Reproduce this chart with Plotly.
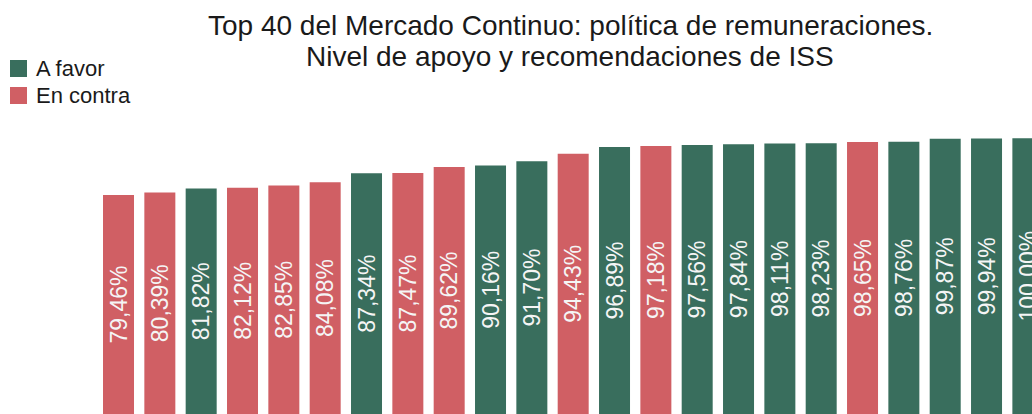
import plotly.graph_objects as go

# Support level for the remuneration policy, ordered from lowest to highest
rank = list(range(1, 24))
support = [79.46, 80.39, 81.82, 82.12, 82.85, 84.08, 87.34, 87.47, 89.62,
           90.16, 91.70, 94.43, 96.89, 97.18, 97.56, 97.84, 98.11, 98.23,
           98.65, 98.76, 99.87, 99.94, 100.00]
# ISS recommendation for each company
iss = ["En contra", "En contra", "A favor", "En contra", "En contra",
       "En contra", "A favor", "En contra", "En contra", "A favor",
       "A favor", "En contra", "A favor", "En contra", "A favor", "A favor",
       "A favor", "A favor", "En contra", "A favor", "A favor", "A favor",
       "A favor"]
groups = ["A favor", "En contra"]
colors = {"A favor": "#396E5D", "En contra": "#D05F64"}
title_lines = ["Top 40 del Mercado Continuo: política de remuneraciones.",
               "Nivel de apoyo y recomendaciones de ISS"]

FONT = "Liberation Sans, Arial, sans-serif"
W, H, TOP = 1032, 414, 97
PLOT_H = H - TOP


def py(pixel_y):
    """Convert a pixel row of the page into paper units of the plot area."""
    return (H - pixel_y) / PLOT_H


fig = go.Figure()
for g in groups:
    xs = [r for r, k in zip(rank, iss) if k == g]
    ys = [v for v, k in zip(support, iss) if k == g]
    fig.add_trace(go.Bar(
        x=xs, y=ys, name=g, width=0.75,
        marker=dict(color=colors[g], line=dict(width=0)),
        texttemplate="%{y:.2f}%", textposition="inside",
        insidetextanchor="middle", textangle=-90, constraintext="none",
        textfont=dict(family=FONT, size=23, color="#F5F5F5"),
        showlegend=False, hoverinfo="skip",
    ))

# Legend: coloured squares with labels at the top left
legend_rows = [(groups[0], 60), (groups[1], 87)]
for g, top in legend_rows:
    fig.add_shape(type="rect", xref="paper", yref="paper",
                  x0=10 / W, x1=27 / W, y0=py(top + 17), y1=py(top),
                  fillcolor=colors[g], line=dict(width=0))
    fig.add_annotation(text=g, xref="paper", yref="paper",
                       x=34 / W, y=py(top + 8.5),
                       xanchor="left", yanchor="middle", showarrow=False,
                       font=dict(family=FONT, size=22, color="#1A1A1A"))

# Two-line centred title
for line, centre in zip(title_lines, [25, 57]):
    fig.add_annotation(text=line, xref="paper", yref="paper",
                       x=570 / W, y=py(centre),
                       xanchor="center", yanchor="middle", showarrow=False,
                       font=dict(family=FONT, size=28, color="#1A1A1A"))

fig.update_layout(
    width=W, height=H,
    margin=dict(l=0, r=0, t=TOP, b=0),
    paper_bgcolor="white", plot_bgcolor="white",
    barmode="overlay", separators=",.",
    xaxis=dict(range=[rank[0] - 2.867, rank[0] + 22.10], visible=False,
               fixedrange=True),
    yaxis=dict(range=[0, 115], visible=False, fixedrange=True),
    font=dict(family=FONT),
)

fig.write_html("out.html", config={"displayModeBar": False})
